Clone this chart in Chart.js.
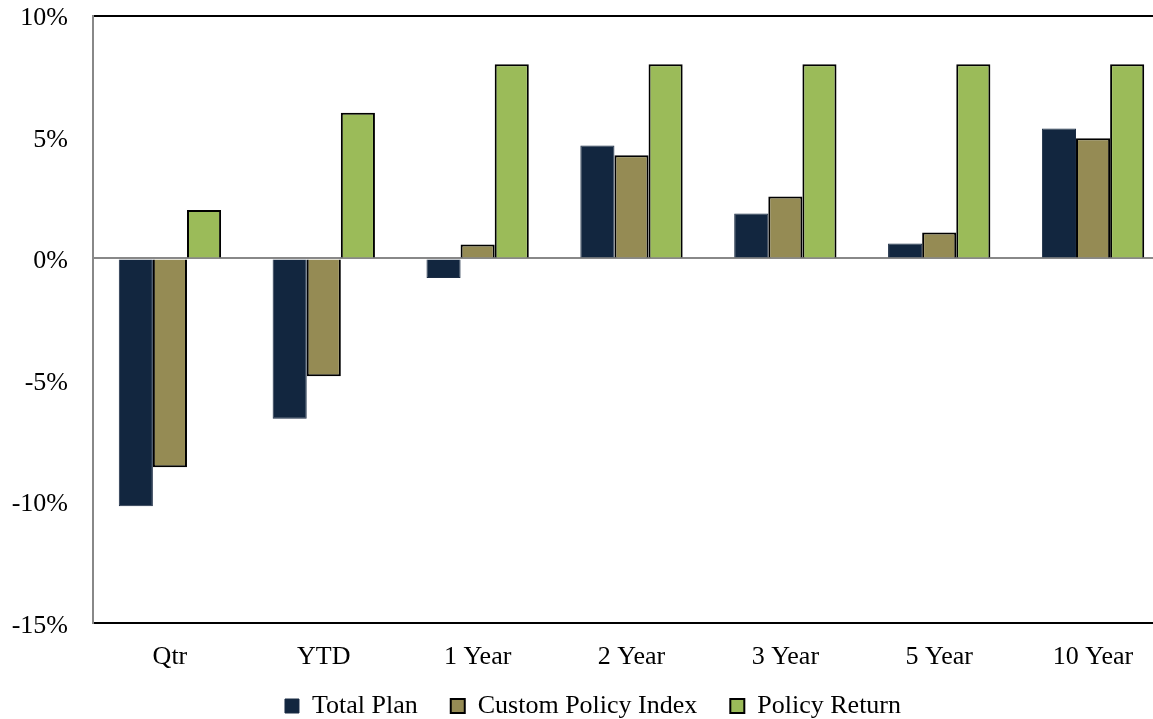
<!DOCTYPE html>
<html>
<head>
<meta charset="utf-8">
<script src="https://cdn.jsdelivr.net/npm/chart.js@4/dist/chart.umd.min.js"></script>
<style>
  html, body { margin: 0; padding: 0; background: #fff; overflow: hidden; }
  #frame { width: 1153px; height: 719px; overflow: hidden; }
  #wrap { width: 1170px; height: 778px; margin-top: -25px; }
</style>
</head>
<body>
<div id="frame"><div id="wrap"><canvas id="returnsChart"></canvas></div></div>
<script>
// periods and returns (%)
const periods = ['Qtr', 'YTD', '1 Year', '2 Year', '3 Year', '5 Year', '10 Year'];
const totalPlan = [-10.2, -6.6, -0.8, 4.65, 1.85, 0.62, 5.35];
const customPolicyIndex = [-8.6, -4.85, 0.58, 4.25, 2.55, 1.07, 4.95];
const policyReturn = [2.0, 6.0, 8.0, 8.0, 8.0, 8.0, 8.0];
const yTicks = [-15, -10, -5, 0, 5, 10];

const FONT = "'Liberation Serif', 'Times New Roman', serif";

// pull the legend up closer to the axis labels and nudge it right
const legendShift = {
  id: 'legendShift',
  afterLayout(chart) {
    const lg = chart.legend;
    lg.top -= 24; lg.bottom -= 24;
    lg.left += 8; lg.right += 8;
  }
};

const ctx = document.getElementById('returnsChart').getContext('2d');
new Chart(ctx, {
  type: 'bar',
  data: {
    labels: periods,
    datasets: [
      { label: 'Total Plan', data: totalPlan, backgroundColor: '#12263f', borderColor: '#1b2c44', borderWidth: 1 },
      { label: 'Custom Policy Index', data: customPolicyIndex, backgroundColor: '#958b54', borderColor: '#000', borderWidth: 2 },
      { label: 'Policy Return', data: policyReturn, backgroundColor: '#9bbb59', borderColor: '#000', borderWidth: 2 }
    ]
  },
  options: {
    responsive: true,
    maintainAspectRatio: false,
    animation: false,
    layout: { padding: { top: 0, right: 0, left: 0, bottom: 0 } },
    datasets: { bar: { barPercentage: 1, categoryPercentage: 0.665 } },
    scales: {
      x: {
        grid: { display: false },
        border: { display: true, color: '#000', width: 2 },
        ticks: { color: '#000', font: { family: FONT, size: 26 }, padding: 11 }
      },
      y: {
        min: -15,
        max: 10,
        afterBuildTicks: (scale) => { scale.ticks = yTicks.map(v => ({ value: v })); },
        afterFit: (scale) => { scale.width = 93; },
        border: { display: true, color: '#888', width: 2 },
        grid: {
          drawTicks: false,
          lineWidth: 2,
          color: (c) => c.tick.value === 10 ? '#000' : (c.tick.value === 0 ? '#888' : 'rgba(0,0,0,0)')
        },
        ticks: {
          color: '#000',
          padding: 25,
          labelOffset: 3,
          font: { family: FONT, size: 26 },
          callback: (v) => v + '%'
        }
      }
    },
    plugins: {
      legend: {
        position: 'bottom',
        labels: {
          color: '#000',
          font: { family: FONT, size: 26 },
          boxWidth: 14,
          boxHeight: 14,
          padding: 33
        }
      },
      tooltip: { enabled: false }
    }
  },
  plugins: [legendShift]
});
</script>
</body>
</html>
